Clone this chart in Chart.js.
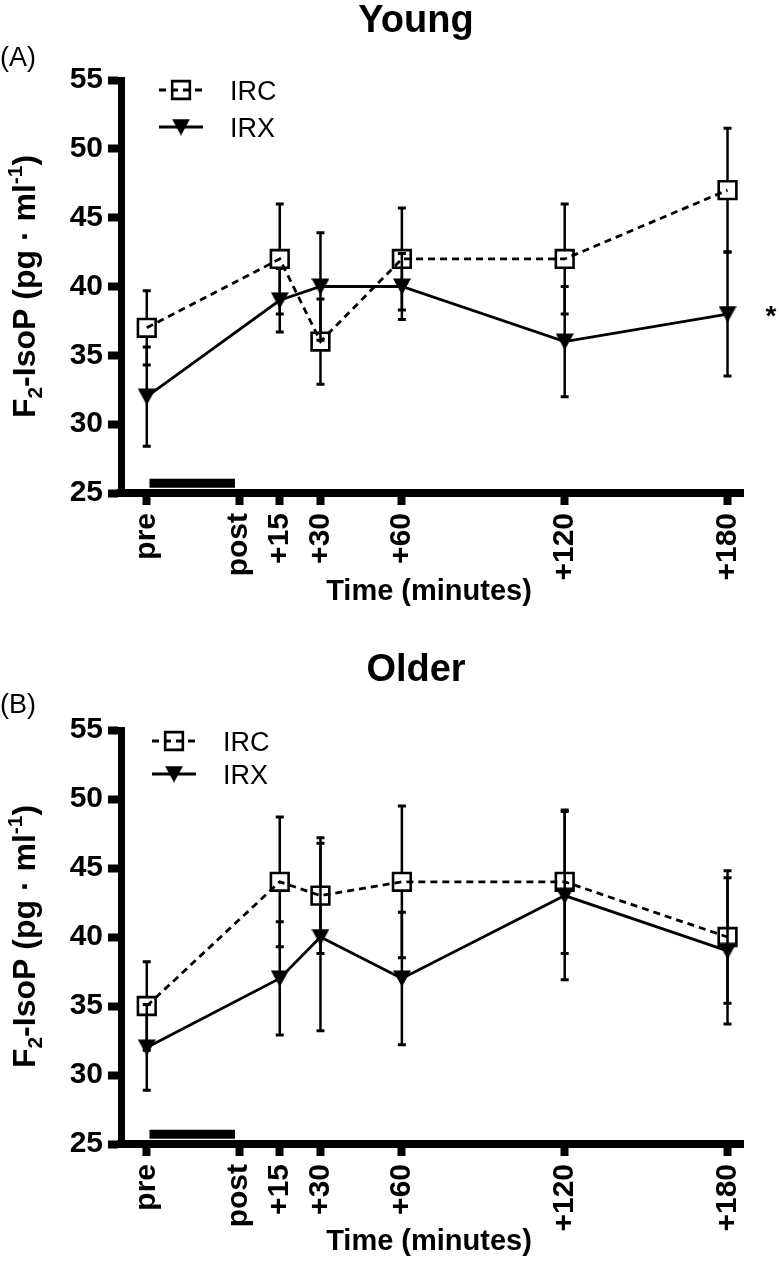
<!DOCTYPE html>
<html>
<head>
<meta charset="utf-8">
<script src="https://cdn.jsdelivr.net/npm/chart.js@4.4.0/dist/chart.umd.min.js"></script>
<style>
  html, body { margin: 0; padding: 0; background: #fff; }
  canvas { display: block; }
</style>
</head>
<body>
<canvas id="chartA" width="779" height="650"></canvas>
<canvas id="chartB" width="779" height="611"></canvas>
<script>
// time axis (minutes), "pre" sits before the exercise bout
const sampleTimes = [-34, 15, 30, 60, 120, 180];
const xTickValues = [-34, 0, 15, 30, 60, 120, 180];
const xTickLabels = ["pre", "post", "+15", "+30", "+60", "+120", "+180"];
const yTickValues = [25, 30, 35, 40, 45, 50, 55];
const exerciseBarX = [-33, -1.5];
const exerciseBarY = 25.7;

const youngIRC = [37, 42, 36, 42, 42, 47];
const youngIRCErr = [2.7, 4, 3.1, 3.7, 4, 4.5];
const youngIRX = [32, 39, 40, 40, 36, 38];
const youngIRXErr = [3.6, 2.3, 3.9, 2.4, 4, 4.5];

const olderIRC = [35, 44, 43, 44, 44, 40];
const olderIRCErr = [3.2, 4.7, 4.2, 5.5, 5.2, 4.8];
const olderIRX = [32, 37, 40, 37, 43, 39];
const olderIRXErr = [3.1, 4.1, 6.8, 4.8, 6.1, 5.3];

const FONT = "'Liberation Sans', Arial, Helvetica, sans-serif";

// filled down-pointing triangle, centred on its box like the original
function makeTriangle() {
  const c = document.createElement("canvas");
  c.width = 18;
  c.height = 17;
  const g = c.getContext("2d");
  g.fillStyle = "#000";
  g.beginPath();
  g.moveTo(0, 0.5);
  g.lineTo(18, 0.5);
  g.lineTo(9, 17);
  g.closePath();
  g.fill();
  return c;
}
const triMarker = makeTriangle();

function drawYTitle(ctx, cx, cy) {
  const parts = [
    { t: "F", s: 32, dy: 0 },
    { t: "2", s: 21, dy: 7 },
    { t: "-IsoP (pg \u00b7 ml", s: 32, dy: 0 },
    { t: "-1", s: 21, dy: -13 },
    { t: ")", s: 32, dy: 0 },
  ];
  ctx.save();
  ctx.translate(cx, cy);
  ctx.rotate(-Math.PI / 2);
  ctx.fillStyle = "#000";
  ctx.textAlign = "left";
  ctx.textBaseline = "alphabetic";
  let total = 0;
  parts.forEach((p) => {
    ctx.font = `bold ${p.s}px ${FONT}`;
    p.w = ctx.measureText(p.t).width;
    total += p.w;
  });
  let x = -total / 2;
  parts.forEach((p) => {
    ctx.font = `bold ${p.s}px ${FONT}`;
    ctx.fillText(p.t, x, p.dy);
    x += p.w;
  });
  ctx.restore();
}

const decor = {
  id: "decor",
  beforeDatasetsDraw(chart) {
    const ctx = chart.ctx;
    const yScale = chart.scales.y;
    chart.data.datasets.forEach((ds, di) => {
      if (!ds.errors) return;
      const meta = chart.getDatasetMeta(di);
      ctx.save();
      ctx.strokeStyle = "#000";
      ds.data.forEach((p, i) => {
        const pt = meta.data[i];
        const top = yScale.getPixelForValue(p.y + ds.errors[i]);
        const bot = yScale.getPixelForValue(p.y - ds.errors[i]);
        ctx.lineWidth = 2.5;
        ctx.beginPath();
        ctx.moveTo(pt.x, pt.y - ds.errGap);
        ctx.lineTo(pt.x, top);
        ctx.moveTo(pt.x, pt.y + ds.errGap);
        ctx.lineTo(pt.x, bot);
        ctx.stroke();
        ctx.lineWidth = 3;
        ctx.beginPath();
        ctx.moveTo(pt.x - 4, top);
        ctx.lineTo(pt.x + 4, top);
        ctx.moveTo(pt.x - 4, bot);
        ctx.lineTo(pt.x + 4, bot);
        ctx.stroke();
      });
      ctx.restore();
    });
  },
  afterDraw(chart, args, o) {
    const ctx = chart.ctx;
    ctx.save();
    ctx.fillStyle = "#000";
    ctx.textBaseline = "alphabetic";

    ctx.font = `bold 38px ${FONT}`;
    ctx.textAlign = "center";
    ctx.fillText(o.title, 416, o.titleY);

    ctx.font = `27px ${FONT}`;
    ctx.textAlign = "left";
    ctx.fillText(o.letter, 0, o.letterY);

    ctx.font = `bold 29px ${FONT}`;
    ctx.textAlign = "center";
    ctx.fillText("Time (minutes)", 429, o.xTitleY);

    drawYTitle(ctx, 35, 286.5);

    // legend
    [1, 2].forEach((di, k) => {
      const ds = chart.data.datasets[di];
      const y = o.legendY[k];
      const x0 = o.legendX;
      ctx.save();
      ctx.strokeStyle = "#000";
      ctx.lineWidth = ds.borderWidth;
      ctx.setLineDash(ds.borderDash || []);
      ctx.beginPath();
      ctx.moveTo(x0, y);
      ctx.lineTo(x0 + 44, y);
      ctx.stroke();
      ctx.setLineDash([]);
      ctx.fillStyle = ds.pointBackgroundColor;
      ctx.lineWidth = ds.pointBorderWidth;
      Chart.helpers.drawPoint(ctx, {
        pointStyle: ds.pointStyle,
        radius: ds.pointRadius,
        rotation: 0,
        borderWidth: ds.pointBorderWidth,
      }, x0 + 22, y);
      ctx.restore();
      ctx.font = `27px ${FONT}`;
      ctx.textAlign = "left";
      ctx.fillText(ds.label, x0 + 71, y + 10);
    });

    if (o.asterisk) {
      ctx.font = `bold 28px ${FONT}`;
      ctx.textAlign = "center";
      ctx.fillText("*", 771, o.asterisk);
    }
    ctx.restore();
  },
};

function axisStyle(width) {
  return {
    grid: {
      drawOnChartArea: false,
      drawTicks: true,
      tickLength: width === 8 ? 12 : 13,
      tickWidth: 8,
      tickColor: "#000",
      color: "#000",
    },
    border: { display: true, width: width, color: "#000" },
  };
}

function makeChart(id, irc, ircErr, irx, irxErr, xHeight, opts) {
  const ctx = document.getElementById(id).getContext("2d");
  return new Chart(ctx, {
    type: "line",
    plugins: [decor],
    data: {
      datasets: [
        {
          label: "bar",
          data: exerciseBarX.map((x) => ({ x: x, y: exerciseBarY })),
          borderColor: "#000",
          borderWidth: 9,
          borderCapStyle: "butt",
          pointRadius: 0,
        },
        {
          label: "IRC",
          data: sampleTimes.map((t, i) => ({ x: t, y: irc[i] })),
          errors: ircErr,
          errGap: 8.8,
          borderColor: "#000",
          borderWidth: 2.8,
          borderDash: [7, 5],
          tension: 0,
          pointStyle: "rect",
          pointRadius: 12.5,
          pointBorderWidth: 2.6,
          pointBorderColor: "#000",
          pointBackgroundColor: "rgba(0,0,0,0)",
        },
        {
          label: "IRX",
          data: sampleTimes.map((t, i) => ({ x: t, y: irx[i] })),
          errors: irxErr,
          errGap: 0,
          borderColor: "#000",
          borderWidth: 2.8,
          tension: 0,
          pointStyle: triMarker,
          pointRadius: 9,
          pointBorderWidth: 0,
          pointBackgroundColor: "#000",
        },
      ],
    },
    options: {
      responsive: false,
      animation: false,
      layout: { padding: { left: 0, right: 36, top: 80, bottom: 0 } },
      plugins: {
        legend: { display: false },
        tooltip: { enabled: false },
        decor: opts,
      },
      scales: {
        x: {
          type: "linear",
          min: -43.5,
          max: 185.7,
          afterFit: (s) => { s.height = xHeight; },
          afterBuildTicks: (s) => { s.ticks = xTickValues.map((v) => ({ value: v })); },
          ticks: {
            autoSkip: false,
            minRotation: 90,
            maxRotation: 90,
            padding: 8,
            color: "#000",
            font: { family: FONT, size: 30, weight: "bold" },
            callback: (v) => xTickLabels[xTickValues.indexOf(v)],
          },
          ...axisStyle(8),
        },
        y: {
          min: 25,
          max: 55,
          afterFit: (s) => { s.width = 121; },
          afterBuildTicks: (s) => { s.ticks = yTickValues.map((v) => ({ value: v })); },
          ticks: {
            padding: 5,
            color: "#000",
            font: { family: FONT, size: 30, weight: "bold" },
          },
          ...axisStyle(7),
        },
      },
    },
  });
}

makeChart("chartA", youngIRC, youngIRCErr, youngIRX, youngIRXErr, 157, {
  title: "Young", titleY: 32, letter: "(A)", letterY: 66,
  legendX: 159, legendY: [90, 127], xTitleY: 600, asterisk: 325,
});
makeChart("chartB", olderIRC, olderIRCErr, olderIRX, olderIRXErr, 117, {
  title: "Older", titleY: 31, letter: "(B)", letterY: 63,
  legendX: 152, legendY: [91, 124], xTitleY: 600, asterisk: null,
});
</script>
</body>
</html>
